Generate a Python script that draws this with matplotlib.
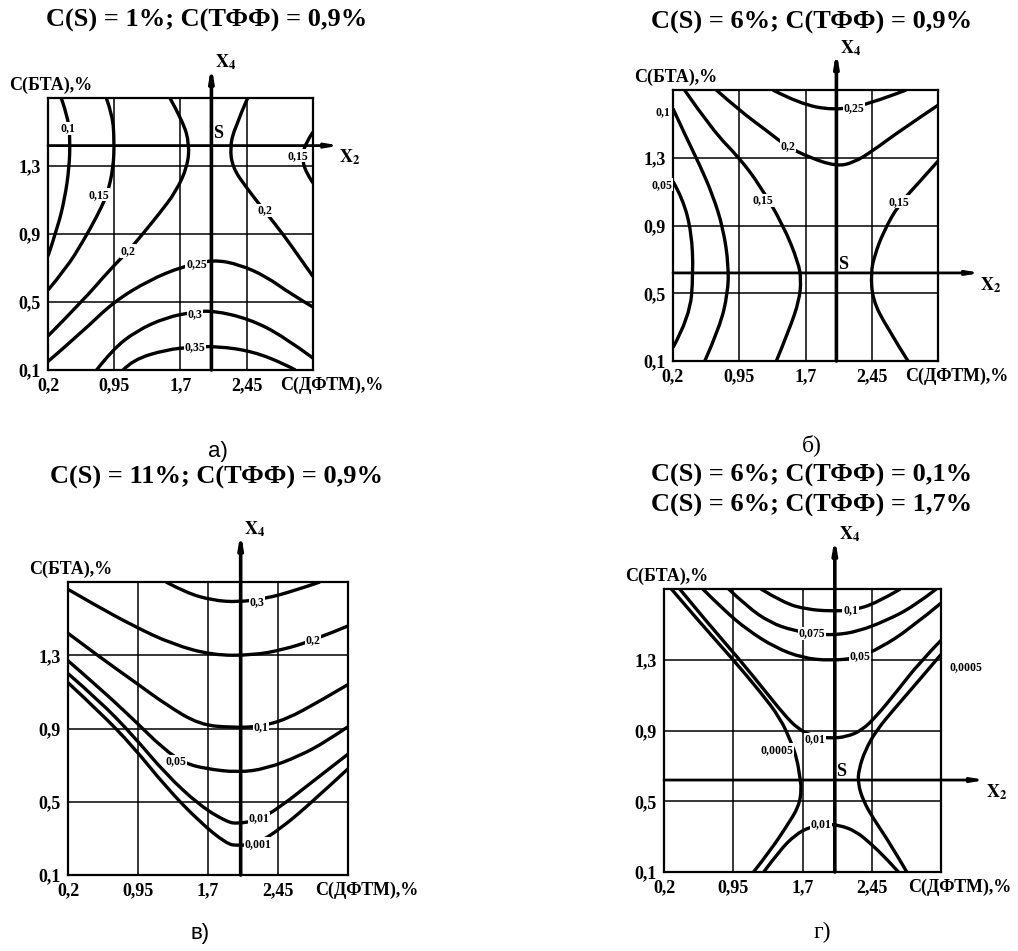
import matplotlib
matplotlib.use('Agg')
import matplotlib.pyplot as plt
from matplotlib.path import Path
from matplotlib.patches import PathPatch

plt.rcParams['font.family'] = ['Liberation Serif', 'DejaVu Serif']
plt.rcParams['mathtext.fontset'] = 'stix'

# axes / grid (shared by all four panels)
x_ticks = [0.2, 0.95, 1.7, 2.45]
x_tick_labels = ['0,2', '0,95', '1,7', '2,45']
y_ticks = [0.1, 0.5, 0.9, 1.3]
y_tick_labels = ['0,1', '0,5', '0,9', '1,3']
x_lim = (0.2, 3.2)
y_lim = (0.1, 1.7)
x4_pos = 2.05

# ---- panel a: C(S)=1%, C(TFF)=0.9%
a_010 = [(0.35, 1.70), (0.43, 1.58), (0.45, 1.45), (0.44, 1.29), (0.39, 1.11), (0.31, 0.94), (0.2, 0.77)]
a_015 = [(0.86, 1.70), (0.93, 1.60), (0.95, 1.45), (0.94, 1.29), (0.87, 1.13), (0.75, 1.00), (0.60, 0.86),
         (0.41, 0.70), (0.2, 0.57)]
a_020l = [(1.58, 1.70), (1.73, 1.56), (1.80, 1.43), (1.78, 1.30), (1.65, 1.15), (1.46, 1.02), (1.24, 0.88),
          (1.11, 0.80), (0.90, 0.69), (0.60, 0.51), (0.2, 0.30)]
a_020r = [(2.46, 1.70), (2.31, 1.52), (2.26, 1.41), (2.29, 1.29), (2.45, 1.17), (2.63, 1.05), (2.86, 0.90),
          (3.05, 0.76), (3.2, 0.65)]
a_015r = [(3.2, 1.50), (3.11, 1.43), (3.08, 1.35), (3.11, 1.27), (3.2, 1.20)]
a_025 = [(0.2, 0.15), (0.60, 0.33), (0.94, 0.50), (1.35, 0.63), (1.73, 0.71), (2.07, 0.75), (2.37, 0.72),
         (2.67, 0.65), (2.94, 0.55), (3.2, 0.47)]
a_030 = [(0.75, 0.1), (0.93, 0.22), (1.2, 0.33), (1.54, 0.41), (1.84, 0.44), (2.07, 0.45), (2.48, 0.40),
         (2.86, 0.30), (3.2, 0.17)]
a_035 = [(1.05, 0.1), (1.16, 0.16), (1.54, 0.22), (1.84, 0.235), (2.11, 0.24), (2.52, 0.21), (2.90, 0.13),
         (3.0, 0.1)]
a_labels = [('0,1', 0.43, 1.52), ('0,15', 3.03, 1.36), ('0,15', 0.78, 1.13), ('0,2', 2.66, 1.04),
            ('0,2', 1.11, 0.80), ('0,25', 1.88, 0.72), ('0,3', 1.86, 0.43), ('0,35', 1.86, 0.235)]

# ---- panel b: C(S)=6%, C(TFF)=0.9%
b_005 = [(0.2, 1.16), (0.31, 1.06), (0.41, 0.86), (0.43, 0.62), (0.39, 0.36), (0.2, 0.18)]
b_010 = [(0.2, 1.59), (0.35, 1.42), (0.50, 1.26), (0.65, 1.08), (0.77, 0.88), (0.83, 0.66), (0.82, 0.50),
         (0.73, 0.30), (0.56, 0.1)]
b_015l = [(0.33, 1.70), (0.65, 1.46), (0.95, 1.30), (1.18, 1.14), (1.45, 0.90), (1.62, 0.68), (1.65, 0.58),
          (1.63, 0.46), (1.52, 0.29), (1.37, 0.1)]
b_020 = [(0.69, 1.70), (0.95, 1.58), (1.26, 1.46), (1.48, 1.37), (1.75, 1.30), (2.05, 1.25), (2.24, 1.27),
         (2.46, 1.34), (2.77, 1.46), (3.2, 1.61)]
b_025 = [(1.33, 1.70), (1.63, 1.62), (2.01, 1.58), (2.39, 1.61), (2.84, 1.70)]
b_015r = [(3.2, 1.28), (2.96, 1.14), (2.75, 1.02), (2.58, 0.86), (2.48, 0.72), (2.44, 0.62), (2.46, 0.46),
          (2.62, 0.30), (2.86, 0.1)]
b_labels = [('0,1', 0.09, 1.57), ('0,05', 0.07, 1.14), ('0,25', 2.25, 1.59), ('0,2', 1.50, 1.37),
            ('0,15', 1.22, 1.05), ('0,15', 2.76, 1.04)]

# ---- panel c: C(S)=11%, C(TFF)=0.9%
c_030 = [(1.25, 1.70), (1.47, 1.64), (1.75, 1.60), (2.02, 1.59), (2.32, 1.61), (2.61, 1.65), (2.90, 1.70)]
c_020 = [(0.2, 1.66), (0.47, 1.58), (0.90, 1.46), (1.32, 1.36), (1.75, 1.30), (2.18, 1.30), (2.50, 1.33),
         (2.82, 1.38), (3.2, 1.46)]
c_010 = [(0.2, 1.42), (0.54, 1.29), (0.90, 1.16), (1.25, 1.03), (1.61, 0.92), (1.97, 0.905), (2.25, 0.91),
         (2.54, 0.95), (2.90, 1.05), (3.2, 1.14)]
c_005 = [(0.2, 1.27), (0.54, 1.12), (0.90, 0.95), (1.22, 0.79), (1.45, 0.71), (1.68, 0.68), (2.02, 0.66),
         (2.32, 0.68), (2.68, 0.75), (2.97, 0.83), (3.2, 0.91)]
c_001 = [(0.2, 1.20), (0.54, 1.05), (0.90, 0.86), (1.25, 0.65), (1.61, 0.48), (1.90, 0.39), (2.02, 0.38),
         (2.24, 0.40), (2.47, 0.47), (2.82, 0.61), (3.2, 0.76)]
c_0001 = [(0.2, 1.15), (0.54, 0.99), (0.90, 0.80), (1.25, 0.58), (1.61, 0.39), (1.90, 0.27), (2.02, 0.26),
          (2.22, 0.27), (2.47, 0.35), (2.82, 0.50), (3.2, 0.68)]
c_labels = [('0,3', 2.22, 1.59), ('0,2', 2.82, 1.38), ('0,1', 2.27, 0.91), ('0,05', 1.36, 0.72),
            ('0,01', 2.25, 0.41), ('0,001', 2.24, 0.27)]

# ---- panel d: C(S)=6%, C(TFF)=0.1% and 1.7%
d_0005l = [(0.28, 1.70), (0.59, 1.51), (0.95, 1.30), (1.24, 1.12), (1.46, 0.97), (1.58, 0.83), (1.64, 0.74),
           (1.67, 0.64), (1.69, 0.57), (1.66, 0.47), (1.53, 0.36), (1.35, 0.22), (1.17, 0.1)]
d_0005r = [(3.2, 1.33), (2.94, 1.17), (2.69, 1.02), (2.50, 0.90), (2.38, 0.79), (2.31, 0.68), (2.30, 0.60),
           (2.36, 0.50), (2.47, 0.40), (2.65, 0.26), (2.83, 0.1)]
d_001u = [(0.37, 1.70), (0.67, 1.51), (1.02, 1.30), (1.30, 1.12), (1.50, 0.99), (1.65, 0.91), (1.80, 0.87),
          (2.00, 0.855), (2.18, 0.865), (2.34, 0.90), (2.50, 0.98), (2.72, 1.12), (2.96, 1.28), (3.2, 1.41)]
d_001d = [(1.28, 0.1), (1.45, 0.22), (1.62, 0.31), (1.78, 0.355), (1.95, 0.37), (2.10, 0.365), (2.28, 0.33),
          (2.44, 0.26), (2.60, 0.18), (2.74, 0.1)]
d_005 = [(0.62, 1.70), (0.85, 1.58), (1.10, 1.47), (1.40, 1.37), (1.70, 1.31), (2.0, 1.295), (2.30, 1.31),
         (2.55, 1.37), (2.85, 1.47), (3.2, 1.62)]
d_0075 = [(0.90, 1.70), (1.10, 1.60), (1.35, 1.51), (1.60, 1.465), (1.85, 1.445), (2.05, 1.44), (2.30, 1.46),
          (2.60, 1.52), (2.90, 1.60), (3.15, 1.70)]
d_010 = [(1.25, 1.70), (1.50, 1.62), (1.75, 1.585), (2.0, 1.575), (2.25, 1.58), (2.50, 1.62), (2.76, 1.70)]
d_labels = [('0,1', 2.22, 1.58), ('0,075', 1.80, 1.45), ('0,05', 2.32, 1.32), ('0,0005', 3.47, 1.26),
            ('0,01', 1.84, 0.85), ('0,0005', 1.42, 0.79), ('0,01', 1.90, 0.37)]

W, H = 1018, 951
fig = plt.figure(figsize=(W / 100, H / 100), dpi=100)
fig.patch.set_facecolor('white')


def px_axes(left, top, right, bottom):
    return fig.add_axes([left / W, 1 - bottom / H, (right - left) / W, (bottom - top) / H])


def smooth_path(pts):
    # quadratic bezier chain: read points act as control points
    verts = [pts[0]]
    codes = [Path.MOVETO]
    for i in range(1, len(pts) - 1):
        nxt = pts[i + 1] if i == len(pts) - 2 else ((pts[i][0] + pts[i + 1][0]) / 2,
                                                      (pts[i][1] + pts[i + 1][1]) / 2)
        verts += [pts[i], nxt]
        codes += [Path.CURVE3, Path.CURVE3]
    if len(pts) == 2:
        verts.append(pts[1])
        codes.append(Path.LINETO)
    return Path(verts, codes)


def draw_panel(ax, curves, labels, x2_y, x2_end, x4_top, s_pos):
    ax.set_xlim(*x_lim)
    ax.set_ylim(*y_lim)
    for g in x_ticks[1:]:
        ax.axvline(g, color='k', lw=1.1, zorder=1)
    for g in y_ticks[1:]:
        ax.axhline(g, color='k', lw=1.1, zorder=1)
    for pts in curves:
        ax.add_patch(PathPatch(smooth_path(pts), fill=False, ec='k', lw=2.4, joinstyle='round', zorder=3))
    for txt, x, y in labels:
        ax.text(x, y, txt, fontsize=8.5, fontweight='bold', ha='center', va='center', zorder=7,
                bbox=dict(boxstyle='square,pad=0.05', fc='white', ec='none'))
    for sp in ax.spines.values():
        sp.set_linewidth(1.6)
    ax.set_xticks(x_ticks, x_tick_labels)
    ax.set_yticks(y_ticks, y_tick_labels)
    ax.tick_params(length=0, labelsize=13, pad=5)
    for lab in ax.get_xticklabels() + ax.get_yticklabels():
        lab.set_fontweight('bold')
    # X4 axis
    ax.annotate('', xy=(x4_pos, x4_top), xytext=(x4_pos, y_lim[0]), annotation_clip=False,
                arrowprops=dict(arrowstyle='-|>,head_width=0.12,head_length=0.7', lw=2.6, color='k',
                                shrinkA=0, shrinkB=0), zorder=5)
    ax.text(x4_pos + 0.04, x4_top + 0.02, r'$\mathbf{X_4}$', fontsize=13, ha='left', va='center')
    # X2 axis
    if x2_y is not None:
        ax.annotate('', xy=(x2_end, x2_y), xytext=(0.2, x2_y), annotation_clip=False,
                    arrowprops=dict(arrowstyle='-|>,head_width=0.12,head_length=0.7', lw=2.0, color='k',
                                    shrinkA=0, shrinkB=0), zorder=5)
        ax.text(x2_end + 0.12, x2_y - 0.07, r'$\mathbf{X_2}$', fontsize=13, ha='center', va='center')
    if s_pos is not None:
        ax.text(s_pos[0], s_pos[1], 'S', fontsize=13, fontweight='bold', ha='center', va='center', zorder=6)
    ax.annotate('C(ДФТМ),%', xy=(1, 0), xycoords='axes fraction', xytext=(-24, -5),
                textcoords='offset points', ha='left', va='top', fontsize=13, fontweight='bold')
    ax.annotate('C(БТА),%', xy=(0, 1), xycoords='axes fraction', xytext=(2, 3),
                textcoords='offset points', ha='center', va='bottom', fontsize=13, fontweight='bold')


ax_a = px_axes(48, 98, 313, 370)
draw_panel(ax_a, [a_010, a_015, a_020l, a_020r, a_015r, a_025, a_030, a_035], a_labels,
           1.42, 3.5, 1.89, (2.13, 1.49))
ax_b = px_axes(673, 90, 938, 361)
draw_panel(ax_b, [b_005, b_010, b_015l, b_020, b_025, b_015r], b_labels, 0.62, 3.68, 1.93, (2.12, 0.67))
ax_c = px_axes(68, 582, 348, 875)
draw_panel(ax_c, [c_030, c_020, c_010, c_005, c_001, c_0001], c_labels, None, None, 1.97, None)
ax_d = px_axes(664, 589, 941, 872)
draw_panel(ax_d, [d_0005l, d_0005r, d_001u, d_001d, d_005, d_0075, d_010], d_labels,
           0.62, 3.68, 1.99, (2.12, 0.67))


def ftext(x, y, s, **kw):
    fig.text(x / W, 1 - y / H, s, ha='center', va='center', **kw)


ftext(207, 20, 'C(S) = 1%; C(ТФФ) = 0,9%', fontsize=19, fontweight='bold')
ftext(812, 22, 'C(S) = 6%; C(ТФФ) = 0,9%', fontsize=19, fontweight='bold')
ftext(217, 477, 'C(S) = 11%; C(ТФФ) = 0,9%', fontsize=19, fontweight='bold')
ftext(812, 475, 'C(S) = 6%; C(ТФФ) = 0,1%', fontsize=19, fontweight='bold')
ftext(812, 505, 'C(S) = 6%; C(ТФФ) = 1,7%', fontsize=19, fontweight='bold')
ftext(218, 452, 'а)', fontsize=16, family=['Liberation Sans', 'DejaVu Sans'])
ftext(812, 445, 'б)', fontsize=17)
ftext(200, 933, 'в)', fontsize=16, family=['Liberation Sans', 'DejaVu Sans'])
ftext(822, 932, 'г)', fontsize=17)

fig.savefig('out.png', dpi=100, facecolor='white')
